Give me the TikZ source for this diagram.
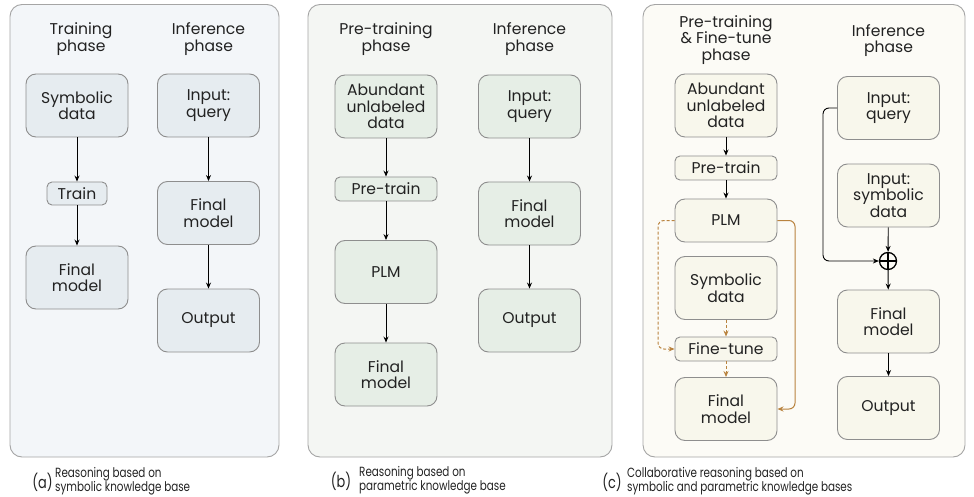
\documentclass[tikz,border=0pt]{standalone}
\usepackage{fontspec}
\setmainfont{Poppins}
\newfontfamily\capfont[FakeStretch=0.78]{Poppins}
\usetikzlibrary{arrows.meta,positioning}
\definecolor{panA}{HTML}{F3F6F9}
\definecolor{nodA}{HTML}{E6ECF0}
\definecolor{panB}{HTML}{F4F6F3}
\definecolor{nodB}{HTML}{E6EEE6}
\definecolor{panC}{HTML}{FCFBF6}
\definecolor{nodC}{HTML}{F8F7EC}
\definecolor{edge}{HTML}{8E8E8E}
\definecolor{orng}{HTML}{B9833F}
\definecolor{txt}{HTML}{222222}
\tikzset{
  panel/.style={draw=edge!80, line width=0.9pt, rounded corners=12pt},
  bigbox/.style={draw=edge, line width=0.9pt, rounded corners=10pt, minimum width=102pt, minimum height=63pt, align=center, inner sep=0pt, font=\fontsize{15.6}{16.5}\selectfont, text=txt},
  smallbox/.style={draw=edge, line width=0.9pt, rounded corners=5pt, minimum height=24pt, align=center, inner sep=0pt, font=\fontsize{15.6}{16.5}\selectfont, text=txt},
  header/.style={align=center, inner sep=0pt, font=\fontsize{15.6}{16.8}\selectfont, text=txt},
  capl/.style={inner sep=0pt, font=\capfont\fontsize{16.5}{16}\selectfont, text=txt},
  capt/.style={align=left, anchor=west, inner sep=0pt, font=\capfont\fontsize{13.3}{14.5}\selectfont, text=txt},
  arr/.style={line width=0.9pt, -{Stealth[length=6pt,width=5pt]}},
  oarr/.style={orng, line width=1pt, -{Stealth[length=6pt,width=5pt]}},
  odash/.style={orng, line width=1pt, dashed, dash pattern=on 3pt off 2pt, -{Stealth[length=6pt,width=5pt]}},
}
\begin{document}
\begin{tikzpicture}[x=1pt,y=-1pt]
\useasboundingbox (0,0) rectangle (974,497);
% panels
\draw[panel, fill=panA] (10,4.5) rectangle (279,457);
\draw[panel, fill=panB] (308,4.5) rectangle (612,457);
\draw[panel, fill=panC] (643,4.5) rectangle (965,457);

% (a)
\node[header] (ha1) at (81,39) {Training\\phase};
\node[header] (ha2) at (208.5,39) {Inference\\phase};
\node[bigbox, fill=nodA] (asym) at (77,105.5) {Symbolic\\data};
\node[smallbox, fill=nodA, minimum width=60pt, minimum height=23pt] (atrain) at (77,193.5) {Train};
\node[bigbox, fill=nodA] (afin) at (77,277.5) {Final\\model};
\node[bigbox, fill=nodA] (aq) at (208.5,105.5) {Input:\\query};
\node[bigbox, fill=nodA] (afin2) at (208.5,213) {Final\\model};
\node[bigbox, fill=nodA] (aout) at (208.5,320.5) {Output};
\draw[arr] (asym) -- (atrain);
\draw[arr] (atrain) -- (afin);
\draw[arr] (aq) -- (afin2);
\draw[arr] (afin2) -- (aout);

% (b)
\node[header] (hb1) at (386,39) {Pre-training\\phase};
\node[header] (hb2) at (529.5,39) {Inference\\phase};
\node[bigbox, fill=nodB] (babu) at (386,106.5) {Abundant\\unlabeled\\data};
\node[smallbox, fill=nodB, minimum width=102pt] (bpre) at (386,189) {Pre-train};
\node[bigbox, fill=nodB] (bplm) at (386,272) {PLM};
\node[bigbox, fill=nodB] (bfin) at (386,374.5) {Final\\model};
\node[bigbox, fill=nodB] (bq) at (529.5,106.5) {Input:\\query};
\node[bigbox, fill=nodB] (bfin2) at (529.5,213.5) {Final\\model};
\node[bigbox, fill=nodB] (bout) at (529.5,320.5) {Output};
\draw[arr] (babu) -- (bpre);
\draw[arr] (bpre) -- (bplm);
\draw[arr] (bplm) -- (bfin);
\draw[arr] (bq) -- (bfin2);
\draw[arr] (bfin2) -- (bout);

% (c)
\node[header] (hc1) at (726,40) {Pre-training\\\& Fine-tune\\phase};
\node[header] (hc2) at (888.5,40.5) {Inference\\phase};
\node[bigbox, fill=nodC] (cabu) at (726,105.5) {Abundant\\unlabeled\\data};
\node[smallbox, fill=nodC, minimum width=102pt] (cpre) at (726,168) {Pre-train};
\node[bigbox, fill=nodC, minimum height=43pt] (cplm) at (726,220.5) {PLM};
\node[bigbox, fill=nodC] (csym) at (726,288) {Symbolic\\data};
\node[smallbox, fill=nodC, minimum width=102pt] (cft) at (726,349) {Fine-tune};
\node[bigbox, fill=nodC] (cfin) at (726,409) {Final\\model};
\node[bigbox, fill=nodC] (cq) at (888.5,108) {Input:\\query};
\node[bigbox, fill=nodC] (csd) at (888.5,195.5) {Input:\\symbolic\\data};
\node[circle, draw=black, line width=1.3pt, minimum size=17pt, inner sep=0pt,
  path picture={\draw[line width=1.3pt] (path picture bounding box.north) -- (path picture bounding box.south)
  (path picture bounding box.west) -- (path picture bounding box.east);}] (cplus) at (888,261) {};
\node[bigbox, fill=nodC] (cfin2) at (888.5,321.5) {Final\\model};
\node[bigbox, fill=nodC] (cout) at (888.5,408) {Output};
\draw[arr] (cabu) -- (cpre);
\draw[arr] (cpre) -- (cplm);
\draw[arr] (csd) -- (cplus);
\draw[arr] (cplus) -- (cfin2);
\draw[arr] (cfin2) -- (cout);
\draw[arr, rounded corners=6pt] (cq.west) -- (823,108) -- (823,261) -- (cplus.west);
\draw[oarr, rounded corners=6pt] (cplm.east) -- (795,220.5) -- (795,409) -- (cfin.east);
\draw[odash, rounded corners=6pt] (cplm.west) -- (658,220.5) -- (658,349) -- (cft.west);
\draw[odash] (csym) -- (cft);
\draw[odash] (cft) -- (cfin);

% captions
\node[capl] (la) at (42.5,482) {(a)};
\node[capt] (ca) at (55,481) {Reasoning based on\\symbolic knowledge base};
\node[capl] (lb) at (341,481) {(b)};
\node[capt] (cb) at (359,480) {Reasoning based on\\parametric knowledge base};
\node[capl] (lc) at (612,482) {(c)};
\node[capt] (cc) at (627,481) {Collaborative reasoning based on\\symbolic and parametric knowledge bases};
\end{tikzpicture}
\end{document}
